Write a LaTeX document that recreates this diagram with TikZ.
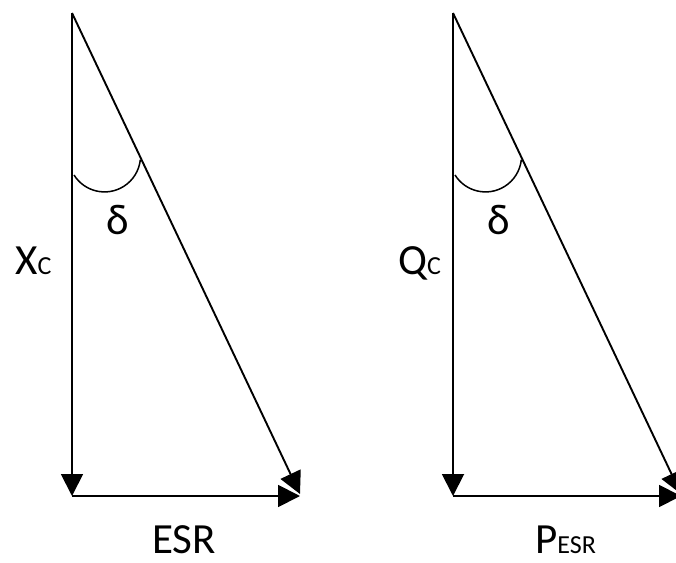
\documentclass[tikz,border=0pt]{standalone}
\usepackage{fontspec}
\setmainfont{Carlito}
\usetikzlibrary{arrows.meta, positioning, calc}
\tikzset{
  vecline/.style={
    line width=1.9pt, -{Triangle[length=22pt, width=22pt]}
  },
  anglearc/.style={line width=1.5pt},
  biglbl/.style={inner sep=0pt, font=\fontsize{43}{50}\selectfont},
}
\newcommand{\subsc}[1]{{\fontsize{26}{30}\selectfont #1}}

\begin{document}
\begin{tikzpicture}[x=1pt, y=1pt]
\useasboundingbox (0,0) rectangle (676,562);
\clip (0,0) rectangle (676,562);

% ---- Impedance triangle ----
\coordinate (ztop) at (72,549);
\coordinate (zcorner) at (72,66);
\coordinate (zend) at (300,66);
\coordinate (zhyp) at (300,68);

\draw[vecline] (ztop) -- (zcorner);
\draw[vecline] (zcorner) -- (zend);
\draw[vecline] (ztop) -- (zhyp);
\draw[anglearc] (74,387) arc[start angle=212, end angle=354, radius=36];

\node[biglbl] (zdelta) at (118,342) {δ};
\node[biglbl, anchor=base west] (xc) at (15,287) {X\subsc{C}};
\node[biglbl, anchor=base] (esr) at (184,9) {ESR};

% ---- Power triangle ----
\coordinate (ptop) at (453,549);
\coordinate (pcorner) at (453,66);
\coordinate (pend) at (681,66);
\coordinate (phyp) at (681,68);

\draw[vecline] (ptop) -- (pcorner);
\draw[vecline] (pcorner) -- (pend);
\draw[vecline] (ptop) -- (phyp);
\draw[anglearc] (455,387) arc[start angle=212, end angle=354, radius=36];

\node[biglbl] (pdelta) at (499,342) {δ};
\node[biglbl, anchor=base west] (qc) at (398,287) {Q\subsc{C}};
\node[biglbl, anchor=base west] (pesr) at (535,9) {P\subsc{ESR}};

\end{tikzpicture}
\end{document}
